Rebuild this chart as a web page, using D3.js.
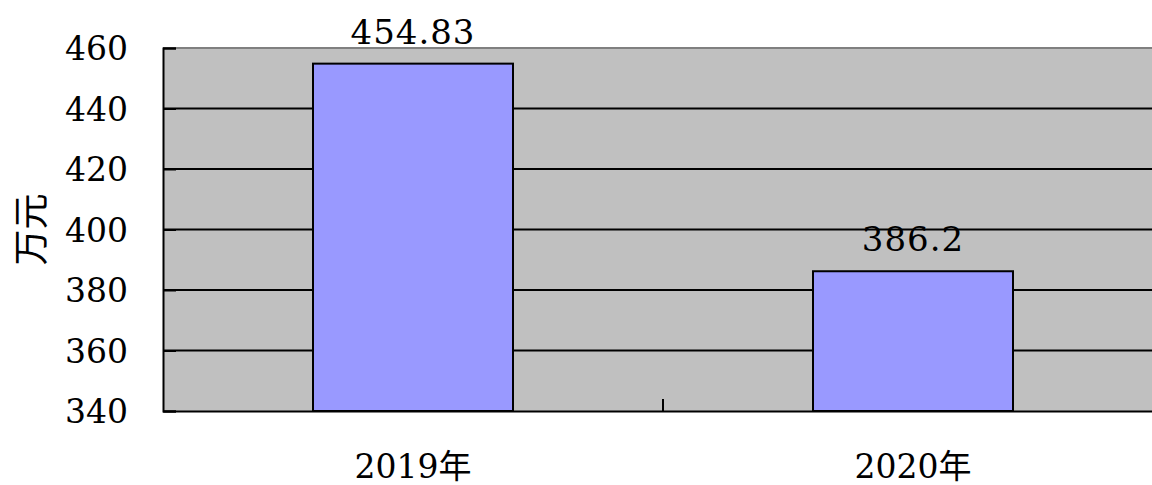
<!DOCTYPE html>
<html>
<head>
	<meta charset="utf-8">
	<title>万元</title>
	<style type="text/css">
		body { margin: 0; background: #fff; }
		svg { display: block; }
	</style>
	<script src="https://d3js.org/d3.v7.min.js"></script>
</head>
<body>
	<svg width="1152" height="485"></svg>
	<script type="text/javascript">
		// chart data
		var years = ['2019年', '2020年'];
		var amounts = [454.83, 386.2];
		var amountLabels = ['454.83', '386.2'];
		var yTicks = [340, 360, 380, 400, 420, 440, 460];

		// Liberation Serif did not render here, DejaVu Serif does
		var serif = 'DejaVu Serif, Noto Sans CJK SC';

		var svg = d3.select('svg');
		var plotLeft = 163, plotTop = 48, plotBottom = 411, plotRight = 1163;

		var x = d3.scaleBand().domain(years).range([plotLeft, plotRight]);
		var y = d3.scaleLinear().domain([340, 460]).range([plotBottom, plotTop]);
		var barW = x.bandwidth() * 0.4;

		// plot background
		svg.append('rect')
			.attr('x', plotLeft).attr('y', plotTop)
			.attr('width', plotRight - plotLeft).attr('height', plotBottom - plotTop)
			.attr('fill', '#c0c0c0');
		svg.append('line')
			.attr('x1', plotLeft).attr('x2', plotRight)
			.attr('y1', plotTop).attr('y2', plotTop)
			.attr('stroke', '#808080').attr('stroke-width', 2);

		// gridlines
		svg.selectAll('.grid')
			.data(yTicks.slice(1, -1))
			.enter()
			.append('line')
			.attr('x1', plotLeft).attr('x2', plotRight)
			.attr('y1', d => y(d)).attr('y2', d => y(d))
			.attr('stroke', '#000').attr('stroke-width', 2);

		// bars
		svg.selectAll('.bar')
			.data(amounts)
			.enter()
			.append('rect')
			.attr('x', (d, i) => x(years[i]) + x.bandwidth() / 2 - barW / 2)
			.attr('y', d => y(d))
			.attr('width', barW)
			.attr('height', d => plotBottom - y(d))
			.attr('fill', '#9999ff')
			.attr('stroke', '#000')
			.attr('stroke-width', 2);

		// value labels
		svg.selectAll('.val')
			.data(amounts)
			.enter()
			.append('text')
			.attr('x', (d, i) => x(years[i]) + x.bandwidth() / 2)
			.attr('y', d => y(d) - 20)
			.attr('text-anchor', 'middle')
			.style('font-family', serif)
			.attr('font-size', '34px')
			.attr('letter-spacing', '1px')
			.attr('fill', '#000')
			.text((d, i) => amountLabels[i]);

		// y axis
		var yAxis = d3.axisLeft(y).tickValues(yTicks).tickSize(-13).tickPadding(35);
		var gy = svg.append('g').attr('transform', 'translate(' + plotLeft + ',0)').call(yAxis);
		gy.select('.domain').attr('stroke', '#000').attr('stroke-width', 2);
		gy.selectAll('.tick line').attr('stroke', '#000').attr('stroke-width', 2);
		gy.selectAll('.tick text')
			.style('font-family', serif)
			.attr('font-size', '33px')
			.attr('fill', '#000')
			.attr('dy', '0.36em');

		// x axis
		var xAxis = d3.axisBottom(x).tickSize(0).tickPadding(0);
		var gx = svg.append('g').attr('transform', 'translate(0,' + plotBottom + ')').call(xAxis);
		gx.select('.domain').attr('stroke', '#000').attr('stroke-width', 2);
		gx.selectAll('.tick text')
			.style('font-family', serif)
			.attr('font-size', '33px')
			.attr('fill', '#000')
			.attr('y', 67)
			.attr('dy', 0);
		// separator tick between categories
		gx.append('line')
			.attr('x1', x(years[1])).attr('x2', x(years[1]))
			.attr('y1', 0).attr('y2', -12)
			.attr('stroke', '#000').attr('stroke-width', 2);

		// y title
		svg.append('text')
			.attr('transform', 'translate(44,' + ((plotTop + plotBottom) / 2) + ') rotate(-90)')
			.attr('text-anchor', 'middle')
			.style('font-family', 'Noto Sans CJK SC')
			.attr('font-size', '36px')
			.attr('fill', '#000')
			.text('万元');
	</script>
</body>
</html>
